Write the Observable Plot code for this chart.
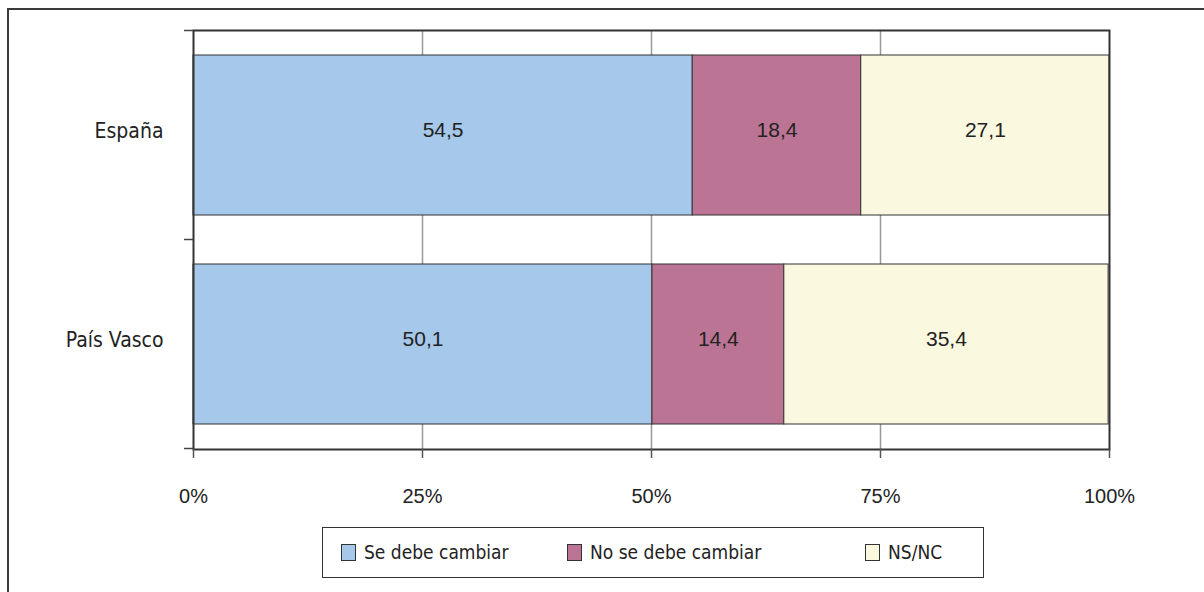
<!DOCTYPE html>
<html><head><meta charset="utf-8">
<script src="https://cdn.jsdelivr.net/npm/d3@7"></script>
<script src="https://cdn.jsdelivr.net/npm/@observablehq/plot@0.6"></script>
<style>
html,body{margin:0;padding:0;background:#fff;overflow:hidden;width:1204px;height:592px;}
body{position:relative;color:#222;}
#outer{position:absolute;left:7px;top:8px;width:1400px;height:800px;border:2px solid #3a3a3a;box-sizing:border-box;}
#chart{position:absolute;left:0;top:0;}
#legend{position:absolute;left:322px;top:527px;width:662px;height:51px;border:1.5px solid #333;box-sizing:border-box;background:#fff;}
.item{position:absolute;top:0;height:48px;display:flex;align-items:center;font-family:"DejaVu Sans Condensed","DejaVu Sans",sans-serif;font-stretch:condensed;font-size:19px;color:#222;white-space:nowrap;}
.sw{width:15px;height:17px;border:1.5px solid #333;margin-right:8px;box-sizing:border-box;}
.ylab{font-stretch:condensed;}
</style>
</head><body>
<div id="outer"></div>
<div id="chart"></div>
<div id="legend"></div>
<script>
const categories = ["España", "País Vasco"];
const series = ["Se debe cambiar", "No se debe cambiar", "NS/NC"];
const seDebeCambiar = [54.5, 50.1];
const noSeDebeCambiar = [18.4, 14.4];
const nsnc = [27.1, 35.4];
const xTicks = [0, 25, 50, 75, 100];
const gridTicks = [25, 50, 75];
const colors = ["#A6C8EA", "#BC7494", "#FBF8E0"];
const legendLeft = [18, 244, 542];

const seriesValues = [seDebeCambiar, noSeDebeCambiar, nsnc];
const rows = [];
categories.forEach((c, i) => series.forEach((s, j) => rows.push({cat: c, series: s, value: seriesValues[j][i]})));

const fmt = v => v.toFixed(1).replace(".", ",");

function boundaryTicks(index, scales, values, dims) {
  const y = scales.y;
  const bw = y.bandwidth ? y.bandwidth() : 0;
  const ys = categories.map(c => y(c));
  const gap = ys.length > 1 ? (ys[1] - ys[0] - bw) : 0;
  const b = ys.map(v => v - gap / 2);
  b.push(ys[ys.length - 1] + bw + gap / 2);
  const g = d3.create("svg:g");
  const x0 = dims.marginLeft;
  g.selectAll("line").data(b).join("line")
    .attr("x1", x0 - 9).attr("x2", x0)
    .attr("y1", d => d).attr("y2", d => d)
    .attr("stroke", "#444").attr("stroke-width", 1.5);
  return g.node();
}

const plot = Plot.plot({
  width: 1204,
  height: 510,
  marginLeft: 193,
  marginRight: 95,
  marginTop: 30,
  marginBottom: 61,
  style: {fontFamily: '"Liberation Sans", Arial, sans-serif', fontSize: "20px", color: "#222", background: "transparent"},
  x: {domain: [0, 100], label: null},
  y: {domain: categories, paddingInner: 0.234, paddingOuter: 0.117, label: null},
  color: {domain: series, range: colors},
  marks: [
    Plot.ruleX(gridTicks, {stroke: "#999", strokeWidth: 1.5}),
    Plot.barX(rows, Plot.stackX({x: "value", y: "cat", fill: "series", stroke: "#333", strokeWidth: 1})),
    Plot.text(rows, Plot.stackX({x: "value", y: "cat", text: d => fmt(d.value), fill: "#222", fontSize: 21, dy: -5})),
    Plot.frame({stroke: "#333", strokeWidth: 2}),
    Plot.axisX({ticks: xTicks, tickFormat: d => d + "%", tickSize: 9, tickPadding: 30, stroke: "#555", strokeWidth: 1.5, fill: "#222", fontSize: 20, label: null}),
    Plot.axisY({tickSize: 0, tickPadding: 30, fontSize: 21, fontFamily: '"DejaVu Sans Condensed", "DejaVu Sans", sans-serif', className: "ylab", fill: "#222", dy: -4, label: null}),
    boundaryTicks
  ]
});
document.getElementById("chart").appendChild(plot);

const legend = document.getElementById("legend");
series.forEach((s, i) => {
  const it = document.createElement("div");
  it.className = "item";
  it.style.left = legendLeft[i] + "px";
  const sw = document.createElement("div");
  sw.className = "sw";
  sw.style.background = colors[i];
  const t = document.createElement("span");
  t.textContent = s;
  it.appendChild(sw);
  it.appendChild(t);
  legend.appendChild(it);
});
</script>
</body></html>
